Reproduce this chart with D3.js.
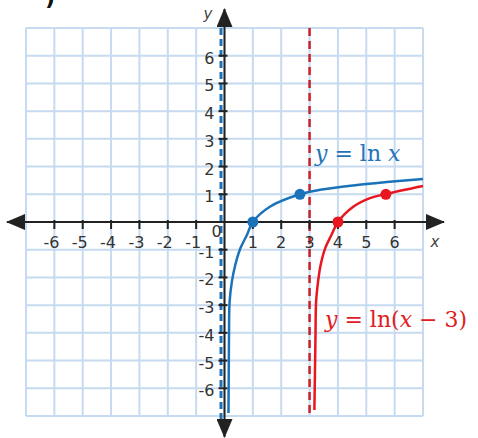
<!DOCTYPE html>
<html>
<head>
<meta charset="utf-8">
<script src="https://cdn.jsdelivr.net/npm/d3@7"></script>
<style>
  body { margin: 0; background: #fff; }
  svg { display: block; }
</style>
</head>
<body>
<div id="chart"></div>
<script>
// values
let gridValues = d3.range(-7, 8);
let tickValues = [-6, -5, -4, -3, -2, -1, 1, 2, 3, 4, 5, 6];
let bluePoints = [[0.14, -6.89], [0.15, -5.4], [0.16, -3.9], [0.18, -2.88], [0.26, -2.15], [0.38, -1.55],
    [0.56, -0.95], [0.79, -0.47], [1.0, 0], [1.6, 0.55], [2.66, 1.0], [3.37, 1.16], [4.54, 1.32],
    [5.72, 1.44], [7.0, 1.55]];
let redPoints = [[3.17, -6.78], [3.19, -5.4], [3.21, -4.0], [3.23, -2.88], [3.30, -2.15], [3.39, -1.55],
    [3.55, -0.95], [3.77, -0.47], [4.0, 0], [4.54, 0.55], [5.13, 0.86], [5.69, 1.01], [7.0, 1.30]];
let blueDots = [[1, 0], [2.66, 1.0]];
let redDots = [[4, 0], [5.69, 1.0]];
let blueAsymptote = 0;
let redAsymptote = 3;

let width = 478, height = 438;
let blue = "#1a73ba", red = "#e8161e", grid = "#c6daf0";

let svg = d3.select("#chart").append("svg")
    .attr("width", width)
    .attr("height", height);

let x = d3.scaleLinear().domain([-7, 7]).range([26, 423]);
let y = d3.scaleLinear().domain([-7, 7]).range([416, 28]);

// grid
svg.append("g").selectAll("line.v")
    .data(gridValues).enter().append("line")
    .attr("x1", d => x(d)).attr("x2", d => x(d))
    .attr("y1", y(7)).attr("y2", y(-7))
    .attr("stroke", grid).attr("stroke-width", 2);
svg.append("g").selectAll("line.h")
    .data(gridValues).enter().append("line")
    .attr("y1", d => y(d)).attr("y2", d => y(d))
    .attr("x1", x(-7)).attr("x2", x(7))
    .attr("stroke", grid).attr("stroke-width", 2);

// asymptotes
svg.append("line")
    .attr("x1", x(blueAsymptote) - 3.5).attr("x2", x(blueAsymptote) - 3.5)
    .attr("y1", y(7)).attr("y2", y(-7) + 4)
    .attr("stroke", blue).attr("stroke-width", 3)
    .attr("stroke-dasharray", "7,4");
svg.append("line")
    .attr("x1", x(redAsymptote)).attr("x2", x(redAsymptote))
    .attr("y1", y(7)).attr("y2", y(-7))
    .attr("stroke", "#c8232c").attr("stroke-width", 2.5)
    .attr("stroke-dasharray", "8,5");

// axes with arrows
svg.append("defs").append("marker")
    .attr("id", "arrow")
    .attr("viewBox", "0 0 19 16")
    .attr("refX", 18).attr("refY", 8)
    .attr("markerWidth", 19).attr("markerHeight", 16)
    .attr("markerUnits", "userSpaceOnUse")
    .attr("orient", "auto-start-reverse")
    .append("path")
    .attr("d", "M0,0 L19,8 L0,16 Z")
    .attr("fill", "#222");

svg.append("line")
    .attr("x1", 7).attr("x2", 444)
    .attr("y1", y(0)).attr("y2", y(0))
    .attr("stroke", "#222").attr("stroke-width", 2)
    .attr("marker-start", "url(#arrow)").attr("marker-end", "url(#arrow)");
svg.append("line")
    .attr("x1", x(0)).attr("x2", x(0))
    .attr("y1", 437).attr("y2", 9)
    .attr("stroke", "#222").attr("stroke-width", 2)
    .attr("marker-start", "url(#arrow)").attr("marker-end", "url(#arrow)");

// ticks
svg.append("g").selectAll("line")
    .data(tickValues).enter().append("line")
    .attr("x1", d => x(d)).attr("x2", d => x(d))
    .attr("y1", y(0) - 2).attr("y2", y(0) + 7)
    .attr("stroke", "#222").attr("stroke-width", 2);
svg.append("g").selectAll("line")
    .data(tickValues).enter().append("line")
    .attr("y1", d => y(d)).attr("y2", d => y(d))
    .attr("x1", x(0) - 6).attr("x2", x(0) + 3)
    .attr("stroke", "#222").attr("stroke-width", 2);

// tick labels
let labelFont = "'DejaVu Sans', Verdana, sans-serif";
svg.append("g").selectAll("text")
    .data(tickValues).enter().append("text")
    .attr("x", d => x(d) + (d < 0 ? -3 : 0))
    .attr("y", y(0) + 26)
    .attr("text-anchor", "middle")
    .attr("font-family", labelFont).attr("font-size", 16)
    .attr("fill", "#333")
    .text(d => d);
svg.append("g").selectAll("text")
    .data(tickValues).enter().append("text")
    .attr("x", x(0) - 10)
    .attr("y", d => y(d) + 8)
    .attr("text-anchor", "end")
    .attr("font-family", labelFont).attr("font-size", 16)
    .attr("fill", "#333")
    .text(d => d);
svg.append("text")
    .attr("x", x(0) - 8).attr("y", y(0) + 15)
    .attr("text-anchor", "middle")
    .attr("font-family", labelFont).attr("font-size", 16)
    .attr("fill", "#333").text("0");

// axis names
svg.append("text").attr("x", 435).attr("y", 247)
    .attr("text-anchor", "middle")
    .attr("font-family", labelFont).attr("font-size", 15).attr("font-style", "italic")
    .attr("fill", "#444").text("x");
svg.append("text").attr("x", 208).attr("y", 19)
    .attr("text-anchor", "middle")
    .attr("font-family", labelFont).attr("font-size", 15).attr("font-style", "italic")
    .attr("fill", "#444").text("y");

// cut-off part label at the top edge, as in the source
svg.append("text").attr("x", 45).attr("y", 5)
    .attr("font-family", labelFont).attr("font-size", 22).attr("font-weight", "bold")
    .attr("fill", "#111").text(")");

// curves
let line = d3.line()
    .x(d => x(d[0]))
    .y(d => y(d[1]))
    .curve(d3.curveCatmullRom.alpha(0.5));

svg.append("path").datum(bluePoints)
    .attr("fill", "none").attr("stroke", blue).attr("stroke-width", 2.5)
    .attr("d", line);
svg.append("path").datum(redPoints)
    .attr("fill", "none").attr("stroke", red).attr("stroke-width", 2.5)
    .attr("d", line);

svg.append("g").selectAll("circle")
    .data(blueDots).enter().append("circle")
    .attr("cx", d => x(d[0])).attr("cy", d => y(d[1])).attr("r", 5.5)
    .attr("fill", blue);
svg.append("g").selectAll("circle")
    .data(redDots).enter().append("circle")
    .attr("cx", d => x(d[0])).attr("cy", d => y(d[1])).attr("r", 5.5)
    .attr("fill", red);

// equation labels
let mathFont = "'DejaVu Serif', 'Liberation Serif', serif";
let blueLabel = svg.append("text").attr("x", 315).attr("y", 161)
    .attr("font-family", mathFont).attr("font-size", 22).attr("fill", "#2473b8");
blueLabel.append("tspan").attr("font-style", "italic").text("y");
blueLabel.append("tspan").text(" = ln ");
blueLabel.append("tspan").attr("font-style", "italic").text("x");

let redLabel = svg.append("text").attr("x", 325).attr("y", 327)
    .attr("font-family", mathFont).attr("font-size", 22).attr("fill", "#e0201e");
redLabel.append("tspan").attr("font-style", "italic").text("y");
redLabel.append("tspan").text(" = ln(");
redLabel.append("tspan").attr("font-style", "italic").text("x");
redLabel.append("tspan").text(" \u2212 3)");
</script>
</body>
</html>
